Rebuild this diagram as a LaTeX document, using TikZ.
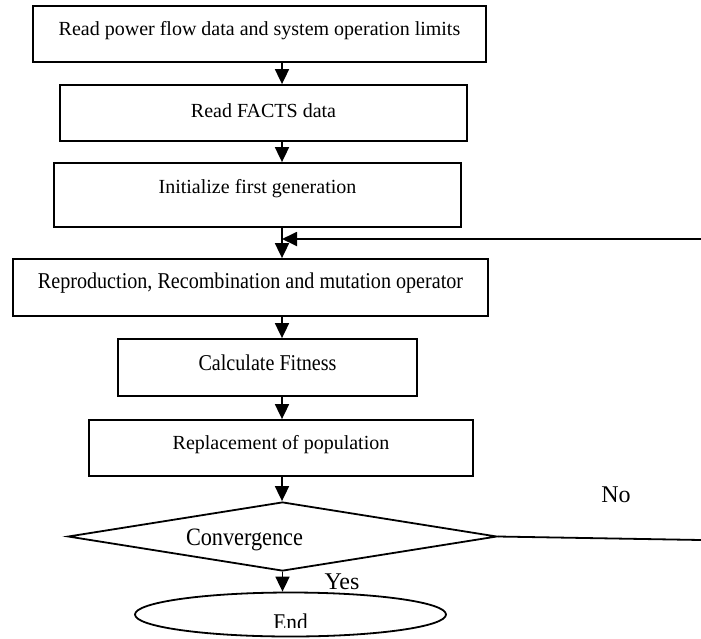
\documentclass[tikz,border=0pt]{standalone}
\usepackage{fontspec}
\setmainfont{Liberation Serif}
\usetikzlibrary{arrows.meta,shapes.geometric}
\newcommand{\squeeze}[1]{\scalebox{0.89}[1]{#1}}

\begin{document}
\begin{tikzpicture}[x=0.5pt,y=-0.5pt,line width=0.9pt,
 >={Triangle[length=7.5pt,width=7pt]},
 box/.style={draw,rectangle,inner sep=0pt,text height=7pt,font=\fontsize{10}{12}\selectfont},
 wide/.style={font=\fontsize{11.3}{13}\selectfont},
 decision/.style={draw,diamond,inner sep=0pt,minimum width=214.5pt,minimum height=34.5pt},
 terminal/.style={draw,ellipse,inner sep=0pt,minimum width=155.5pt,minimum height=22pt},
 lbl/.style={font=\fontsize{12}{14}\selectfont}]
\path[use as bounding box,clip] (0,0) rectangle (701,638);
\coordinate (axis) at (282,0);
\node[box,minimum width=226.5pt,minimum height=28pt,text depth=6pt] (read) at (259.5,34)
 {Read power flow data and system operation limits};
\node[box,minimum width=203.5pt,minimum height=28pt,text depth=3pt] (facts) at (263.5,113)
 {Read FACTS data};
\node[box,minimum width=203.5pt,minimum height=32pt,text depth=9pt] (init) at (257.5,195)
 {Initialize first generation};
\node[box,wide,minimum width=237.5pt,minimum height=28.5pt,text depth=6.5pt] (reprod) at (250.5,287.5)
 {\squeeze{Reproduction, Recombination and mutation operator}};
\node[box,wide,minimum width=149.5pt,minimum height=28.5pt,text depth=4.5pt] (fitness) at (267.5,367.5)
 {\squeeze{Calculate Fitness}};
\node[box,minimum width=192pt,minimum height=28pt,text depth=6pt] (replace) at (281,448)
 {Replacement of population};
\node[decision,label={[xshift=-19pt,yshift=-1.85pt,font={\fontsize{12.5}{15}\selectfont}]center:\squeeze{Convergence}}]
 (conv) at (282.5,536.5) {};
\node[terminal] (end) at (290.5,614.5) {};
% text of the end box is cut off at its foot
\begin{scope}
\clip (135,600) rectangle (446,627.5);
\node[lbl] (endtext) at (290.5,622) {\squeeze{End}};
\end{scope}
\node[lbl] (yes) at (342,582) {Yes};
\node[lbl] (no) at (616,495) {No};
% main flow
\draw[->] (read.south -| axis) -- (facts.north -| axis);
\draw[->] (facts.south -| axis) -- (init.north -| axis);
\draw[->] (init.south -| axis) -- (reprod.north -| axis);
\draw[->] (reprod.south -| axis) -- (fitness.north -| axis);
\draw[->] (fitness.south -| axis) -- (replace.north -| axis);
\draw[->] (replace.south -| axis) -- (conv.north -| axis);
\draw[->] (conv.south) -- (conv.south |- end.north);
% loop back
\coordinate (loopout) at (701,540);
\coordinate (loopin) at (701,239);
\draw (conv.east) -- (loopout);
\draw[->] (loopin) -- (loopin -| axis);
\end{tikzpicture}
\end{document}
